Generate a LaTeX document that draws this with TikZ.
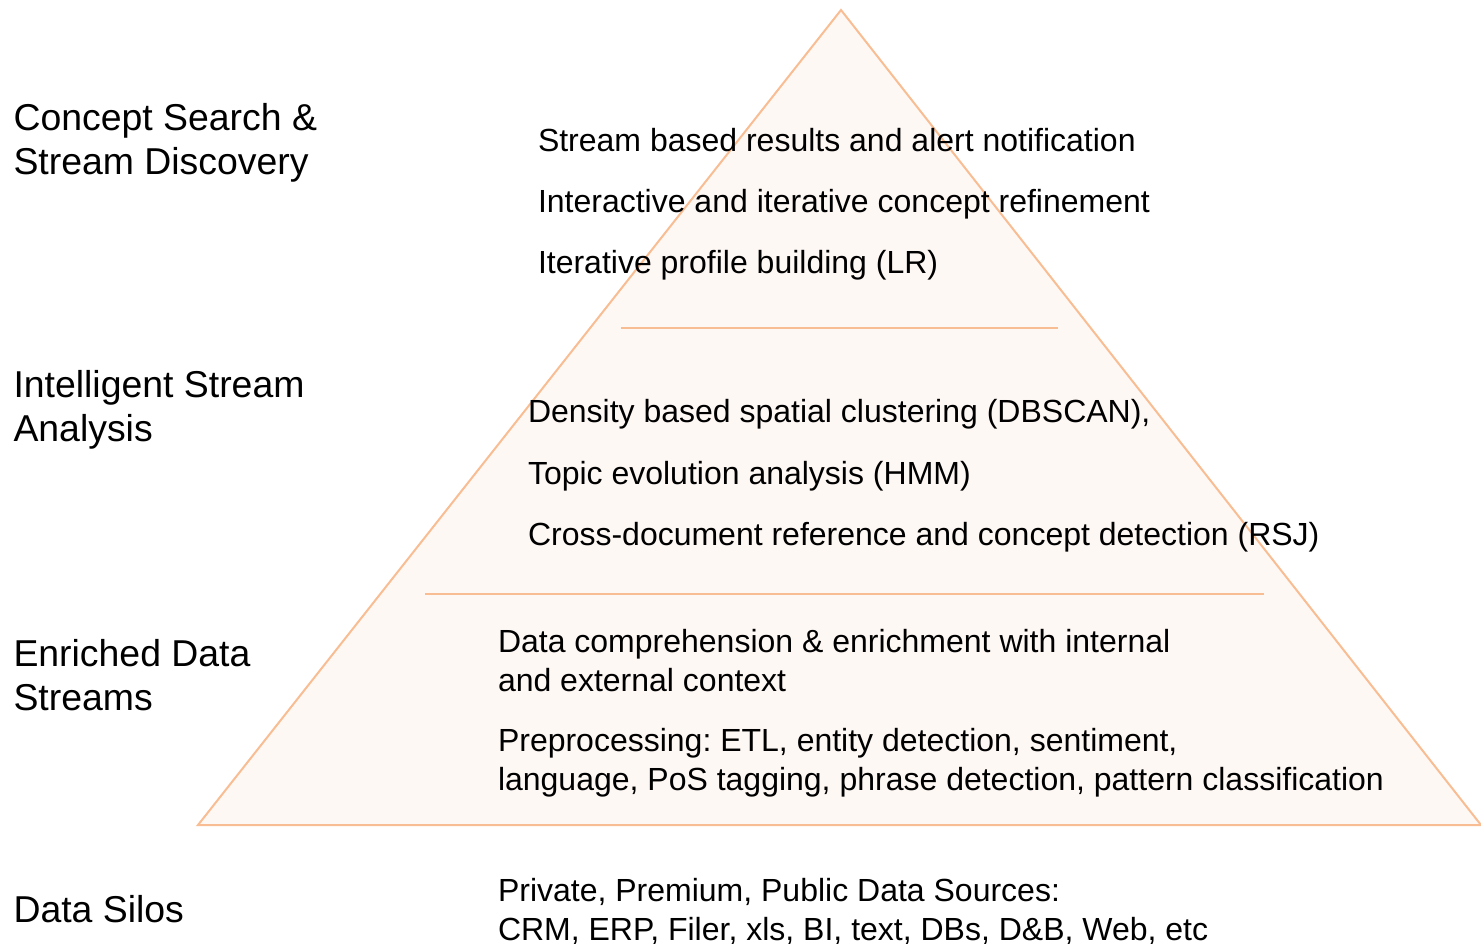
\documentclass[tikz,border=0pt]{standalone}
\usepackage{fontspec}
\setmainfont{Liberation Sans}
\frenchspacing
\definecolor{pyrline}{HTML}{F8BD93}
\definecolor{pyrfill}{HTML}{FEF8F4}
\tikzset{
  layerlabel/.style={anchor=north west, inner sep=0pt, outer sep=0pt, align=left, font=\fontsize{37.4}{44}\selectfont},
  itemtext/.style={anchor=north west, inner sep=0pt, outer sep=0pt, align=left, font=\fontsize{32}{38.5}\selectfont},
  pyredge/.style={draw=pyrline, line width=2pt, line join=miter},
  sepline/.style={draw=pyrline, line width=2pt}
}
\begin{document}
\begin{tikzpicture}[x=1pt,y=-1pt]
\useasboundingbox (0,0) rectangle (1481,944);
\coordinate (apex) at (841,10);
\coordinate (bl) at (198,825);
\coordinate (br) at (1481,825);
\filldraw[pyredge, fill=pyrfill] (apex) -- (bl) -- (br) -- cycle;
\coordinate (s1a) at (621,328);
\coordinate (s1b) at (1058,328);
\coordinate (s2a) at (425,594);
\coordinate (s2b) at (1264,594);
\draw[sepline] (s1a) -- (s1b);
\draw[sepline] (s2a) -- (s2b);

\node[layerlabel] (l1) at (13.5,103) {Concept Search \&\\Stream Discovery};
\node[layerlabel] (l2) at (13.5,370) {Intelligent Stream\\Analysis};
\node[layerlabel] (l3) at (13.5,639) {Enriched Data\\Streams};
\node[layerlabel] (l4) at (13.5,895) {Data Silos};

\node[itemtext] (a1) at (538,128.5) {Stream based results and alert notification};
\node[itemtext] (a2) at (538,189.5) {Interactive and iterative concept refinement};
\node[itemtext] (a3) at (538,250.5) {Iterative profile building (LR)};

\node[itemtext] (b1) at (528,399.5) {Density based spatial clustering (DBSCAN),};
\node[itemtext] (b2) at (528,461.5) {Topic evolution analysis (HMM)};
\node[itemtext] (b3) at (528,522.5) {Cross-document reference and concept detection (RSJ)};

\node[itemtext] (c1) at (498,629.5) {Data comprehension \& enrichment with internal\\and external context};
\node[itemtext] (c2) at (498,728.5) {Preprocessing: ETL, entity detection, sentiment,\\language, PoS tagging, phrase detection, pattern classification};

\node[itemtext] (d1) at (498,878.5) {Private, Premium, Public Data Sources:\\CRM, ERP, Filer, xls, BI, text, DBs, D\&B, Web, etc};
\end{tikzpicture}
\end{document}
